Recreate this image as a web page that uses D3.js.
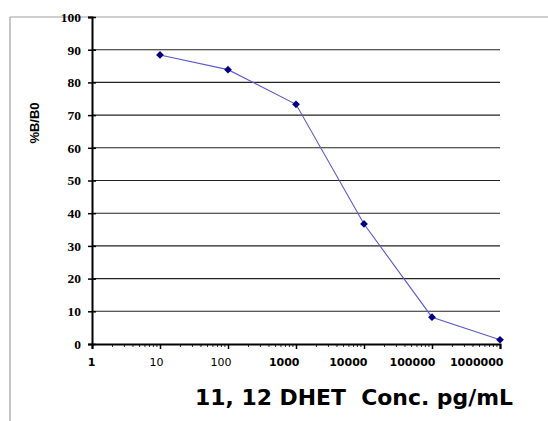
<!DOCTYPE html>
<html>
<head>
<meta charset="utf-8">
<script src="https://cdn.jsdelivr.net/npm/d3@7"></script>
<style>
  body { margin: 0; background: #fff; }
  svg { display: block; }
</style>
</head>
<body>
<svg id="chart" width="548" height="421"></svg>
<script>
// concentration (pg/mL) and %B/B0
const conc = [10, 100, 1000, 10000, 100000, 1000000]
const bb0 = [88.4, 83.9, 73.3, 36.7, 8.2, 1.3]
const xTicks = [1, 10, 100, 1000, 10000, 100000, 1000000]
const yTicks = [0, 10, 20, 30, 40, 50, 60, 70, 80, 90, 100]

const svg = d3.select('#chart')
const plotL = 92, plotR = 500, plotT = 17, plotB = 344

const x = d3.scaleLog().domain([1, 1000000]).range([plotL, plotR])
const y = d3.scaleLinear().domain([0, 100]).range([plotB, plotT])

// outer frame (top and left only visible)
svg.append('line')
  .attr('x1', 10).attr('x2', 548).attr('y1', plotT).attr('y2', plotT)
  .attr('stroke', '#a0a0a0').attr('stroke-width', 1.2)
svg.append('line')
  .attr('x1', 10).attr('x2', 10).attr('y1', plotT).attr('y2', 421)
  .attr('stroke', '#a0a0a0').attr('stroke-width', 1.2)

// gridlines
svg.append('g').selectAll('line')
  .data(yTicks.filter(d => d > 0 && d < 100)).enter().append('line')
  .attr('x1', plotL).attr('x2', plotR)
  .attr('y1', d => y(d)).attr('y2', d => y(d))
  .attr('stroke', '#222').attr('stroke-width', 1.1)

// y axis
const yAxis = svg.append('g')
  .attr('transform', `translate(${plotL},0)`)
  .call(d3.axisLeft(y).tickValues(yTicks).tickSize(4).tickPadding(7))
yAxis.select('.domain').attr('stroke', '#000').attr('stroke-width', 2)
yAxis.selectAll('.tick line').attr('x1', 4).attr('stroke', '#000').attr('stroke-width', 1.5)
yAxis.selectAll('text')
  .attr('font-family', 'Liberation Serif, serif')
  .attr('font-weight', 'bold')
  .attr('font-size', 13.5)
  .attr('fill', '#000')

// x axis: minor ticks
const minor = []
xTicks.slice(0, -1).forEach(d => { for (let k = 2; k < 10; k++) minor.push(d * k) })
svg.append('g').selectAll('line')
  .data(minor).enter().append('line')
  .attr('x1', d => x(d)).attr('x2', d => x(d))
  .attr('y1', plotB).attr('y2', plotB + 3)
  .attr('stroke', '#333').attr('stroke-width', 1)

const xAxis = svg.append('g')
  .attr('transform', `translate(0,${plotB})`)
  .call(d3.axisBottom(x).tickValues(xTicks).tickFormat(d3.format('d')).tickSize(5).tickPadding(9))
xAxis.select('.domain').attr('stroke', '#000').attr('stroke-width', 2)
xAxis.selectAll('.tick line').attr('stroke', '#000').attr('stroke-width', 1.5)
xAxis.selectAll('text')
  .attr('text-anchor', 'end')
  .attr('dx', 3)
  .attr('font-family', 'DejaVu Sans, sans-serif')
  .attr('font-size', 11)
  .attr('font-weight', (d, i) => (i === 1 || i === 2) ? 'normal' : 'bold')
  .attr('fill', '#000')

// curve
const pts = conc.map((c, i) => [c, bb0[i]])
svg.append('path')
  .datum(pts)
  .attr('fill', 'none')
  .attr('stroke', '#5a5ad0')
  .attr('stroke-width', 1.1)
  .attr('d', d3.line().x(d => x(d[0])).y(d => y(d[1])))

svg.append('g').selectAll('path')
  .data(pts).enter().append('path')
  .attr('transform', d => `translate(${x(d[0])},${y(d[1])}) rotate(45)`)
  .attr('d', d3.symbol().type(d3.symbolSquare).size(30))
  .attr('fill', '#000080')

// axis titles
svg.append('text')
  .attr('transform', `translate(39,123) rotate(-90)`)
  .attr('text-anchor', 'middle')
  .attr('font-family', 'Liberation Sans, Arial, sans-serif')
  .attr('font-weight', 'bold')
  .attr('font-size', 13)
  .text('%B/B0')

svg.append('text')
  .attr('x', 195).attr('y', 405)
  .attr('xml:space', 'preserve')
  .attr('font-family', 'DejaVu Sans, sans-serif')
  .attr('font-weight', 'bold')
  .attr('font-size', 21)
  .attr('textLength', 318)
  .attr('lengthAdjust', 'spacingAndGlyphs')
  .text('11, 12 DHET  Conc. pg/mL')
</script>
</body>
</html>
